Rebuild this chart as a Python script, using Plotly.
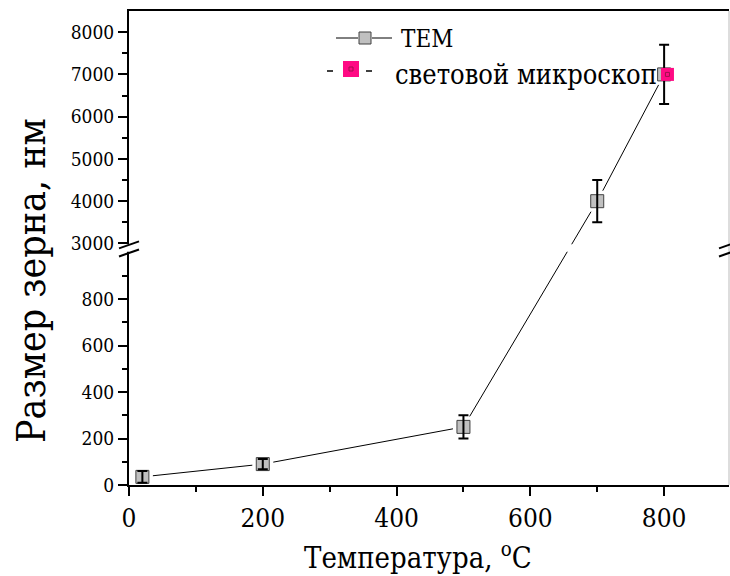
import plotly.graph_objects as go

# ---- data ----
temperature = [20, 200, 500, 700, 800]          # °C
grain_size_tem = [35, 90, 250, 4000, 7000]      # nm
grain_err_tem = [25, 22, 50, 500, 700]          # nm

temperature_lm = [805]                           # °C
grain_size_lm = [7000]                           # nm

x_ticks = [0, 200, 400, 600, 800]
y_ticks_low = [0, 200, 400, 600, 800]
y_ticks_high = [3000, 4000, 5000, 6000, 7000, 8000]
y_minor_low = [100, 300, 500, 700, 900]
y_minor_high = [3500, 4500, 5500, 6500, 7500]

# ---- broken y-axis: 0..1000 below the break, 3000..8500 above ----
LOW_TOP = 1000
HIGH_BOTTOM = 3000
HIGH_TOP = 8500
GAP = 39                      # axis units left empty at the break
HIGH_SCALE = 1000 / (HIGH_TOP - HIGH_BOTTOM)


def to_axis(v):
    if v <= LOW_TOP:
        return v
    return LOW_TOP + GAP + (v - HIGH_BOTTOM) * HIGH_SCALE


Y_MAX = to_axis(HIGH_TOP)

y_t = [to_axis(v) for v in grain_size_tem]
err_plus = [to_axis(v + e) - to_axis(v) for v, e in zip(grain_size_tem, grain_err_tem)]
err_minus = [to_axis(v) - to_axis(v - e) for v, e in zip(grain_size_tem, grain_err_tem)]
y_lm = [to_axis(v) for v in grain_size_lm]

# ---- page geometry ----
W, H = 730, 576
L, R, T, B = 129, 729, 11, 485


def px_x(px):
    return (px - L) / (R - L)


def px_y(py):
    return (B - py) / (B - T)


FONT = "DejaVu Serif Condensed"
GRAY = "#C0C0C0"
PINK = "#FF0A84"

fig = go.Figure()

# connecting line
fig.add_trace(go.Scatter(x=temperature, y=y_t, mode="lines",
                         line=dict(color="black", width=1), showlegend=False,
                         hoverinfo="skip"))
# white halo leaves a small gap between line and markers
fig.add_trace(go.Scatter(x=temperature, y=y_t, mode="markers",
                         marker=dict(symbol="square", size=21, color="white",
                                     line=dict(width=0)),
                         showlegend=False, hoverinfo="skip"))
# TEM markers
fig.add_trace(go.Scatter(
    x=temperature, y=y_t, mode="markers", name="TEM",
    marker=dict(symbol="square", size=13, color=GRAY,
                line=dict(color="#404040", width=1)),
    showlegend=False))
# TEM error bars, drawn over the markers
fig.add_trace(go.Scatter(
    x=temperature, y=y_t, mode="markers",
    marker=dict(size=1, color="rgba(0,0,0,0)"),
    error_y=dict(type="data", symmetric=False, array=err_plus,
                 arrayminus=err_minus, color="black", thickness=2, width=5),
    showlegend=False, hoverinfo="skip"))
# light microscope point
fig.add_trace(go.Scatter(
    x=temperature_lm, y=y_lm, mode="markers", name="световой микроскоп",
    marker=dict(symbol="square", size=13, color=PINK, line=dict(width=0)),
    showlegend=False))
fig.add_trace(go.Scatter(
    x=temperature_lm, y=y_lm, mode="markers",
    marker=dict(symbol="square-open", size=4, color="#A0104E",
                line=dict(width=1)),
    showlegend=False, hoverinfo="skip"))

shapes = []
# blank band across the break
shapes.append(dict(type="rect", xref="paper", yref="y",
                   x0=px_x(124), x1=1.0, y0=LOW_TOP + 3,
                   y1=to_axis(HIGH_BOTTOM) - 3,
                   fillcolor="white", line=dict(width=0), layer="above"))
# right frame line
shapes.append(dict(type="line", xref="paper", yref="paper", x0=1, x1=1,
                   y0=0, y1=1, line=dict(color="#BBBBBB", width=1),
                   layer="above"))
# break marks on the left and right axes
slant = 15
for xc in (L, R):
    for yc in (LOW_TOP - 2, to_axis(HIGH_BOTTOM) - 6):
        shapes.append(dict(type="line", xref="paper", yref="y",
                           x0=px_x(xc - 10), x1=px_x(xc + 10),
                           y0=yc - slant, y1=yc + slant,
                           line=dict(color="black", width=2), layer="above"))

# legend symbols
shapes.append(dict(type="line", xref="paper", yref="paper",
                   x0=px_x(336), x1=px_x(392), y0=px_y(38), y1=px_y(38),
                   line=dict(color="black", width=1), layer="above"))
shapes.append(dict(type="rect", xref="paper", yref="paper",
                   x0=px_x(358), x1=px_x(372), y0=px_y(31), y1=px_y(45),
                   fillcolor="white", line=dict(width=0), layer="above"))
shapes.append(dict(type="rect", xref="paper", yref="paper",
                   x0=px_x(359), x1=px_x(371), y0=px_y(32), y1=px_y(44),
                   fillcolor=GRAY, line=dict(color="#404040", width=1),
                   layer="above"))
for xa, xb in ((327, 333), (366, 372)):
    shapes.append(dict(type="line", xref="paper", yref="paper",
                       x0=px_x(xa), x1=px_x(xb), y0=px_y(71), y1=px_y(71),
                       line=dict(color="black", width=1.5), layer="above"))
shapes.append(dict(type="rect", xref="paper", yref="paper",
                   x0=px_x(343), x1=px_x(359), y0=px_y(61), y1=px_y(77),
                   fillcolor=PINK, line=dict(width=0), layer="above"))
shapes.append(dict(type="rect", xref="paper", yref="paper",
                   x0=px_x(349), x1=px_x(353), y0=px_y(67), y1=px_y(71),
                   fillcolor="rgba(0,0,0,0)", line=dict(color="#A0104E", width=1),
                   layer="above"))

annotations = [
    dict(text="Размер зерна, нм", xref="paper", yref="paper",
         x=px_x(32), y=px_y(281), textangle=-90, showarrow=False,
         xanchor="center", yanchor="middle",
         font=dict(family=FONT, size=39, color="black")),
    dict(text="Температура, <sup>o</sup>C", xref="paper", yref="paper",
         x=px_x(418), y=px_y(556), showarrow=False,
         xanchor="center", yanchor="middle",
         font=dict(family=FONT, size=29, color="black")),
    dict(text="TEM", xref="paper", yref="paper",
         x=px_x(399), y=px_y(39), showarrow=False,
         xanchor="left", yanchor="middle",
         font=dict(family=FONT, size=24, color="black")),
    dict(text="световой микроскоп", xref="paper", yref="paper",
         x=px_x(393), y=px_y(74), showarrow=False,
         xanchor="left", yanchor="middle",
         font=dict(family=FONT, size=27, color="black")),
]

fig.update_layout(
    width=W, height=H,
    margin=dict(l=L, r=W - R, t=T, b=H - B, pad=0),
    paper_bgcolor="white", plot_bgcolor="white",
    font=dict(family=FONT, color="black"),
    shapes=shapes, annotations=annotations,
    showlegend=False,
)

fig.update_xaxes(
    range=[0, 897], tickmode="array", tickvals=x_ticks,
    ticktext=[str(v) for v in x_ticks],
    showline=True, linecolor="black", linewidth=2, mirror=True,
    ticks="outside", ticklen=9, tickwidth=2, tickcolor="black",
    minor=dict(tickmode="linear", tick0=100, dtick=200, ticks="outside",
               ticklen=5, tickwidth=2, tickcolor="black"),
    showgrid=False, zeroline=False,
    tickfont=dict(family=FONT, size=26, color="black"),
)

fig.update_yaxes(
    range=[0, Y_MAX], tickmode="array",
    tickvals=[to_axis(v) for v in y_ticks_low + y_ticks_high],
    ticktext=[str(v) for v in y_ticks_low + y_ticks_high],
    showline=True, linecolor="black", linewidth=2,
    ticks="outside", ticklen=9, tickwidth=2, tickcolor="black",
    minor=dict(tickmode="array",
               tickvals=[to_axis(v) for v in y_minor_low + y_minor_high],
               ticks="outside", ticklen=5, tickwidth=2, tickcolor="black"),
    showgrid=False, zeroline=False,
    tickfont=dict(family=FONT, size=19, color="black"),
)

fig.write_html("out.html")
